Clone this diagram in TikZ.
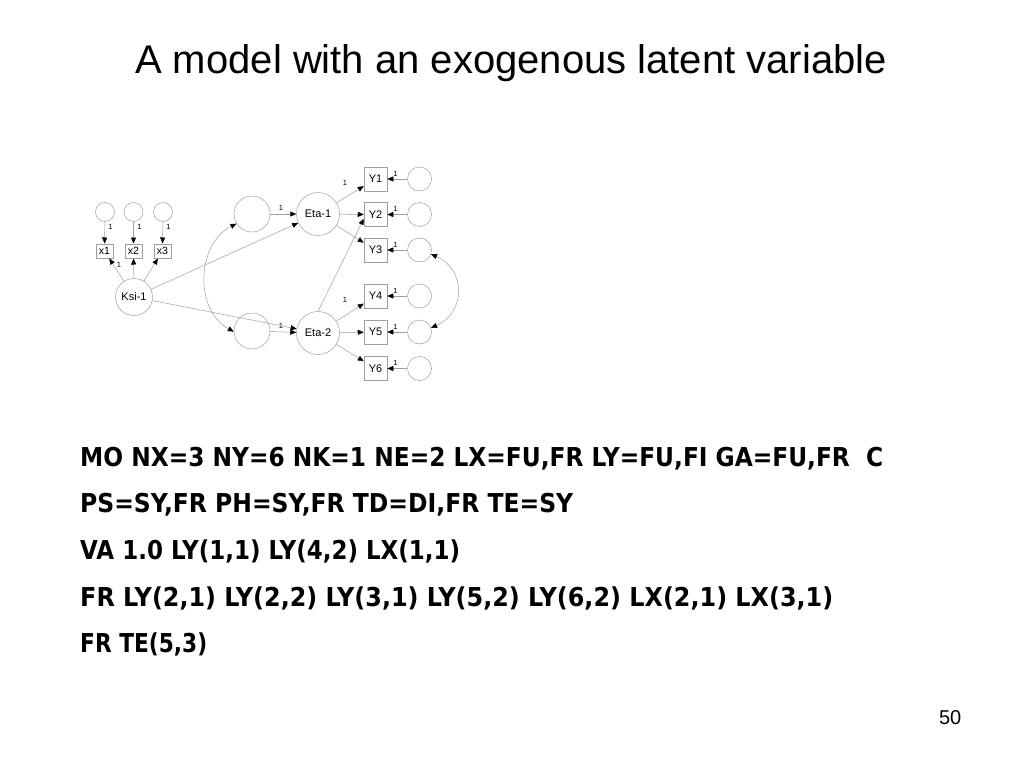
\documentclass[tikz,border=0pt]{standalone}
\usepackage{fontspec}
\setmainfont{Liberation Sans}
\newfontfamily\codefont{DejaVu Sans}
\usetikzlibrary{arrows.meta}
\newcommand{\codeln}[2]{\resizebox{#1}{\height}{#2}}
\begin{document}
\begin{tikzpicture}[x=1pt,y=-1pt,
  lat/.style={circle,draw=gray!75,line width=0.5pt,inner sep=0pt,minimum size=#1,font=\fontsize{11}{11}\selectfont},
  ybox/.style={rectangle,draw=gray!75,line width=0.5pt,inner sep=0pt,minimum width=23pt,minimum height=24pt,font=\fontsize{11}{11}\selectfont},
  xbox/.style={rectangle,draw=gray!75,line width=0.5pt,inner sep=0pt,minimum width=17.5pt,minimum height=14.5pt,font=\fontsize{10.5}{10.5}\selectfont},
  arr/.style={draw=gray!75,line width=0.5pt,-{Triangle[length=6pt,width=5pt,color=black]}},
  cov/.style={draw=gray!75,line width=0.5pt,{Triangle[length=6pt,width=5pt,color=black]}-{Triangle[length=6pt,width=5pt,color=black]}},
  one/.style={font=\fontsize{7.5}{7.5}\selectfont,inner sep=0pt},
  code/.style={anchor=base west,inner sep=0pt,font=\codefont\bfseries\fontsize{26}{26}\selectfont}
]
\useasboundingbox[fill=white] (0,0) rectangle (1024,768);

\node[anchor=base,inner sep=0pt,font=\fontsize{40}{40}\selectfont] (title) at (511,73) {A model with an exogenous latent variable};

% exogenous part
\node[lat=19pt] (ex1) at (105,212) {};
\node[lat=19pt] (ex2) at (133.5,212) {};
\node[lat=19pt] (ex3) at (163,212) {};
\node[xbox] (x1) at (104.5,251) {x1};
\node[xbox] (x2) at (133.5,251) {x2};
\node[xbox] (x3) at (162.5,251) {x3};
\node[lat=37pt] (ksi) at (134,297) {Ksi-1};

\draw[arr] (ex1) -- (x1);
\draw[arr] (ex2) -- (x2);
\draw[arr] (ex3) -- (x3);
\draw[arr] (ksi) -- (x1);
\draw[arr] (ksi) -- (x2);
\draw[arr] (ksi) -- (x3);
\node[one] (lx1) at (110.5,227) {1};
\node[one] (lx2) at (139.5,227) {1};
\node[one] (lx3) at (168.5,227) {1};
\node[one] (lk1) at (119,265) {1};

% endogenous latents
\node[lat=36pt] (d1) at (252,214) {};
\node[lat=36pt] (d2) at (252,331) {};
\node[lat=43pt] (eta1) at (318,214) {Eta-1};
\node[lat=43pt] (eta2) at (318,333) {Eta-2};
\draw[arr] (d1) -- (eta1);
\draw[arr] (d2) -- (eta2);
\node[one] (ld1) at (281,208) {1};
\node[one] (ld2) at (281,326) {1};
\draw[arr] (ksi) -- (eta1);
\draw[arr] (ksi) -- (eta2);
\draw[cov] (d1.212) .. controls +(-40,20) and +(-40,-22) .. (d2.182);

% indicators
\node[ybox] (y1) at (375.5,179) {Y1};
\node[ybox] (y2) at (375.5,214.5) {Y2};
\node[ybox] (y3) at (375.5,250) {Y3};
\node[ybox] (y4) at (375.5,296) {Y4};
\node[ybox] (y5) at (375.5,332) {Y5};
\node[ybox] (y6) at (375.5,368.5) {Y6};
\node[lat=24pt] (ey1) at (419.5,179) {};
\node[lat=24pt] (ey2) at (419.5,214.5) {};
\node[lat=24pt] (ey3) at (419.5,250) {};
\node[lat=24pt] (ey4) at (419.5,296) {};
\node[lat=24pt] (ey5) at (419.5,332) {};
\node[lat=24pt] (ey6) at (419.5,368.5) {};

\draw[arr] (eta1) -- (y1);
\draw[arr] (eta1) -- (y2);
\draw[arr] (eta1) -- (y3);
\draw[arr] (eta2.north) -- (y2.200);
\draw[arr] (eta2) -- (y4);
\draw[arr] (eta2) -- (y5);
\draw[arr] (eta2) -- (y6);
\node[one] (le1) at (345,183) {1};
\node[one] (le4) at (345,300) {1};

\draw[arr] (ey1) -- (y1);
\draw[arr] (ey2) -- (y2);
\draw[arr] (ey3) -- (y3);
\draw[arr] (ey4) -- (y4);
\draw[arr] (ey5) -- (y5);
\draw[arr] (ey6) -- (y6);
\node[one] (ly1) at (395.5,173.5) {1};
\node[one] (ly2) at (395.5,209) {1};
\node[one] (ly3) at (395.5,244.5) {1};
\node[one] (ly4) at (395.5,290.5) {1};
\node[one] (ly5) at (395.5,326.5) {1};
\node[one] (ly6) at (395.5,363) {1};
\draw[cov] (ey3.-20) .. controls +(35,15) and +(35,-15) .. (ey5.20);

% code lines
\node[code] (c1) at (80,466) {\codeln{803pt}{MO NX=3 NY=6 NK=1 NE=2 LX=FU,FR LY=FU,FI GA=FU,FR\ \ C}};
\node[code] (c2) at (80,512) {\codeln{493pt}{PS=SY,FR PH=SY,FR TD=DI,FR TE=SY}};
\node[code] (c3) at (80,559.5) {\codeln{380pt}{VA 1.0 LY(1,1) LY(4,2) LX(1,1)}};
\node[code] (c4) at (80,606.5) {\codeln{753pt}{FR LY(2,1) LY(2,2) LY(3,1) LY(5,2) LY(6,2) LX(2,1) LX(3,1)}};
\node[code] (c5) at (80,652.5) {\codeln{127pt}{FR TE(5,3)}};

\node[anchor=base east,inner sep=0pt,font=\fontsize{20}{20}\selectfont] (pg) at (961.5,724) {50};
\end{tikzpicture}
\end{document}
